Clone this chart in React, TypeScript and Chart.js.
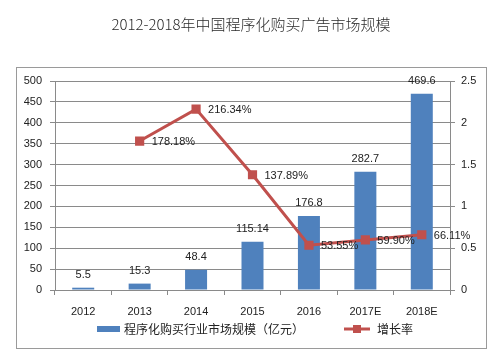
import React, { useEffect, useRef } from "react";
import { Chart, registerables } from "chart.js";

Chart.register(...registerables);

const titleText = "2012-2018年中国程序化购买广告市场规模";
const categories = ["2012", "2013", "2014", "2015", "2016", "2017E", "2018E"];
const marketSize = [5.5, 15.3, 48.4, 115.14, 176.8, 282.7, 469.6];
const marketLabels = ["5.5", "15.3", "48.4", "115.14", "176.8", "282.7", "469.6"];
const growthRate = [null, 1.7818, 2.1634, 1.3789, 0.5355, 0.599, 0.6611];
const growthLabels = ["", "178.18%", "216.34%", "137.89%", "53.55%", "59.90%", "66.11%"];
const barLegend = "程序化购买行业市场规模（亿元）";
const lineLegend = "增长率";

const BLUE = "#4F81BD";
const RED = "#C0504D";
const GRID = "#8a8a8a";
const TXT = "#222222";
const FONT = '"Liberation Sans", Arial, sans-serif';
const CJK = '"Noto Sans CJK SC", sans-serif';

const decor = {
  id: "decor",
  beforeDraw(chart: any) {
    const ctx = chart.ctx;
    ctx.save();
    ctx.fillStyle = "#ffffff";
    ctx.fillRect(0, 0, chart.width, chart.height);
    ctx.strokeStyle = "#9a9a9a";
    ctx.lineWidth = 1;
    ctx.strokeRect(16.5, 67.5, 470, 281);
    ctx.fillStyle = "#2a2a2a";
    ctx.font = "300 15px " + CJK;
    ctx.textAlign = "center";
    ctx.textBaseline = "middle";
    ctx.fillText(titleText, 251, 24);
    ctx.restore();
  },
  afterDatasetsDraw(chart: any) {
    const ctx = chart.ctx;
    ctx.save();
    ctx.fillStyle = TXT;
    ctx.font = "11px " + FONT;
    ctx.textBaseline = "middle";
    const barMeta = chart.getDatasetMeta(0);
    ctx.textAlign = "center";
    barMeta.data.forEach((el: any, i: number) => {
      ctx.fillText(marketLabels[i], el.x, el.y - 13);
    });
    const lineMeta = chart.getDatasetMeta(1);
    ctx.textAlign = "left";
    lineMeta.data.forEach((el: any, i: number) => {
      if (!growthLabels[i]) return;
      ctx.fillText(growthLabels[i], el.x + 12, el.y + 1);
    });
    // legend
    ctx.fillStyle = BLUE;
    ctx.fillRect(97, 326, 23, 6);
    ctx.fillStyle = TXT;
    ctx.font = "12px " + CJK;
    ctx.textAlign = "left";
    ctx.fillText(barLegend, 124, 329);
    ctx.strokeStyle = RED;
    ctx.lineWidth = 3;
    ctx.beginPath();
    ctx.moveTo(344, 329);
    ctx.lineTo(370, 329);
    ctx.stroke();
    ctx.fillStyle = RED;
    ctx.fillRect(353, 325, 8, 8);
    ctx.fillStyle = TXT;
    ctx.fillText(lineLegend, 377, 329);
    ctx.restore();
  },
};

export default function App() {
  const ref = useRef<HTMLCanvasElement | null>(null);
  useEffect(() => {
    document.body.style.margin = "0";
    const chart = new Chart(ref.current as HTMLCanvasElement, {
      type: "bar",
      data: {
        labels: categories,
        datasets: [
          {
            type: "bar",
            label: barLegend,
            data: marketSize,
            backgroundColor: BLUE,
            yAxisID: "y",
            barPercentage: 0.78,
            categoryPercentage: 0.5,
            order: 2,
          },
          {
            type: "line",
            label: lineLegend,
            data: growthRate as any,
            borderColor: RED,
            backgroundColor: RED,
            borderWidth: 3,
            pointStyle: "rect",
            pointRadius: 6.5,
            pointBorderWidth: 0,
            pointBackgroundColor: RED,
            yAxisID: "y1",
            spanGaps: false,
            order: 1,
          } as any,
        ],
      },
      options: {
        animation: false,
        responsive: false,
        devicePixelRatio: 1,
        layout: { padding: { top: 81, bottom: 39, left: 0, right: 0 } },
        plugins: {
          legend: { display: false },
          title: { display: false },
          tooltip: { enabled: false },
        },
        scales: {
          x: {
            offset: true,
            grid: {
              offset: true,
              drawOnChartArea: false,
              drawTicks: true,
              tickLength: 5,
              color: GRID,
            },
            border: { color: GRID },
            ticks: { color: TXT, font: { size: 11, family: FONT }, padding: 10, maxRotation: 0 },
            afterFit(s: any) {
              s.height = 30;
            },
          },
          y: {
            position: "left",
            min: 0,
            max: 500,
            ticks: { stepSize: 50, color: TXT, font: { size: 11, family: FONT }, padding: 8 },
            grid: { color: GRID, tickLength: 5 },
            border: { color: GRID },
            afterFit(s: any) {
              s.width = 55;
            },
          },
          y1: {
            position: "right",
            min: 0,
            max: 2.5,
            ticks: {
              stepSize: 0.5,
              color: TXT,
              font: { size: 11, family: FONT },
              padding: 6,
              callback: (v: any) => String(Number(v)),
            },
            grid: { drawOnChartArea: false, color: GRID, tickLength: 5 },
            border: { color: GRID },
            afterFit(s: any) {
              s.width = 50;
            },
          },
        },
      } as any,
      plugins: [decor],
    });
    return () => chart.destroy();
  }, []);
  return (
    <div style={{ position: "fixed", left: 0, top: 0, width: 500, height: 359 }}>
      <canvas ref={ref} width={500} height={359} style={{ width: 500, height: 359 }} />
    </div>
  );
}
